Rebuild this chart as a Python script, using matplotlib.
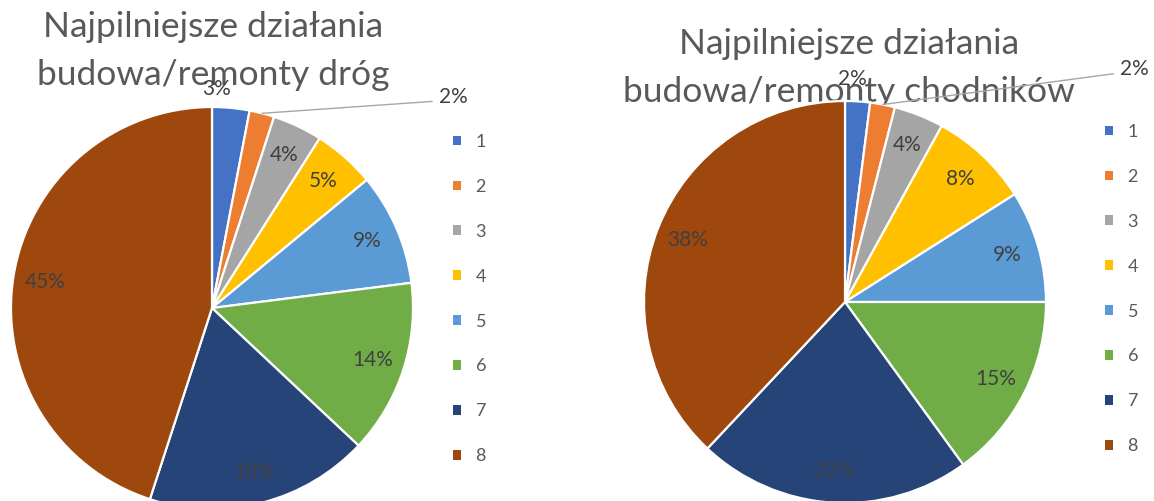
import matplotlib.pyplot as plt
import matplotlib.patches as patches
import numpy as np

# survey answers (share of respondents, %)
categories = ['1', '2', '3', '4', '5', '6', '7', '8']
roads = [3, 2, 4, 5, 9, 14, 18, 45]
sidewalks = [2, 2, 4, 8, 9, 15, 22, 38]
title_roads = 'Najpilniejsze działania\nbudowa/remonty dróg'
title_sidewalks = 'Najpilniejsze działania\nbudowa/remonty chodników'

colors = ['#4472C4', '#ED7D31', '#A5A5A5', '#FFC000',
          '#5B9BD5', '#70AD47', '#264478', '#9E480E']

plt.rcParams['font.family'] = ['Lato', 'DejaVu Sans']

W, H = 1154, 501
fig = plt.figure(figsize=(W / 100, H / 100), dpi=100)
ax = fig.add_axes([0, 0, 1, 1])

R = 201


def draw_pie(values, cx, cy, title, tx, ty, small_pos, leader_pos, leg_x, leg_y):
    wedges, texts, autotexts = ax.pie(
        values, colors=colors, startangle=90, counterclock=False,
        center=(cx, cy), radius=R, autopct='%1.0f%%', pctdistance=0.84,
        wedgeprops=dict(edgecolor='white', linewidth=1.6),
        textprops=dict(color='#404040', fontsize=15))

    # slice 1: label just above the pie
    w = wedges[0]
    ang = np.deg2rad(w.theta1 + small_pos[0] * (w.theta2 - w.theta1))
    autotexts[0].set_position((cx + small_pos[1] * R * np.cos(ang),
                               cy + small_pos[1] * R * np.sin(ang)))

    # slice 2: label pulled out with a leader line
    w = wedges[1]
    ang = np.deg2rad((w.theta1 + w.theta2) / 2)
    autotexts[1].set_visible(False)
    ax.annotate(autotexts[1].get_text(),
                xy=(cx + R * np.cos(ang), cy + R * np.sin(ang)),
                xytext=(cx + leader_pos[0] * R, cy + leader_pos[1] * R),
                ha='left', va='center', color='#404040', fontsize=15,
                arrowprops=dict(arrowstyle='-', color='#a6a6a6', lw=1,
                                relpos=(0, 0.3), shrinkA=3, shrinkB=0))

    ax.text(tx, ty, title, ha='center', va='top', fontsize=25.5,
            color='#595959', linespacing=1.62, zorder=0)

    handles = [patches.Patch(facecolor=c, edgecolor='none') for c in colors]
    leg = ax.legend(handles, categories, loc='upper left',
                    bbox_to_anchor=(leg_x / W, leg_y / H),
                    frameon=False, fontsize=13, labelcolor='#595959',
                    handlelength=0.45, handleheight=0.45,
                    handletextpad=0.8, labelspacing=1.6,
                    borderaxespad=0, borderpad=0)
    return leg


leg1 = draw_pie(roads, 212, H - 308, title_roads, 213, H - 11,
                (0.9, 1.09), (1.13, 1.05), 453, H - 134)
ax.add_artist(leg1)
draw_pie(sidewalks, 845, H - 302, title_sidewalks, 849, H - 28,
         (0.75, 1.11), (1.37, 1.16), 1105, H - 124)

# pie() resets the view, so fix the pixel frame afterwards
ax.set_xlim(0, W)
ax.set_ylim(0, H)
ax.set_aspect('equal')
ax.axis('off')

plt.savefig('out.png', dpi=100)
